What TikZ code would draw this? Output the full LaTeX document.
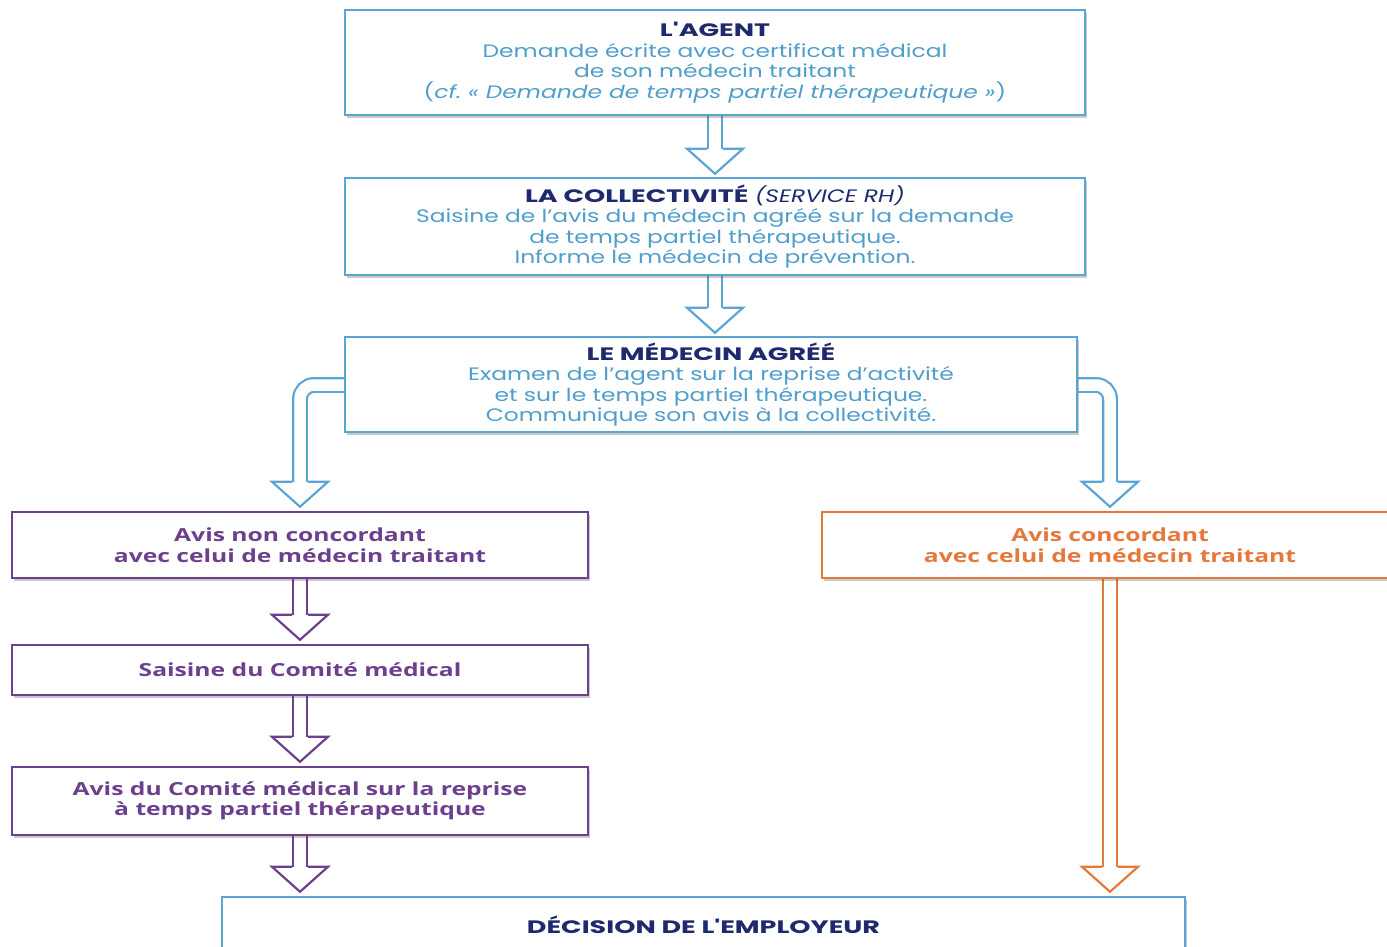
\documentclass[tikz,border=0pt]{standalone}
\usepackage{fontspec}
\setmainfont{Poppins}[FakeStretch=1.3]
\newfontfamily\headfont{Poppins}[FakeStretch=1.5]
\newfontfamily\avisfont{Open Sans}[FakeStretch=1.37]
\usetikzlibrary{shadows,backgrounds,calc}

\definecolor{bluebord}{HTML}{5AA5D5}
\definecolor{bluetext}{HTML}{4F9ECB}
\definecolor{navy}{HTML}{1F2A6E}
\definecolor{purp}{HTML}{6C3F8F}
\definecolor{orng}{HTML}{E5783A}

\newcommand{\stagehead}[1]{\textcolor{navy}{\headfont\bfseries #1}}

\tikzset{
  stage/.style={draw=bluebord, line width=2.5pt, fill=white, align=center, inner sep=0pt,
    text=bluetext, font=\fontsize{18}{20.5}\selectfont,
    drop shadow={shadow xshift=2pt, shadow yshift=-3pt, opacity=0.3, fill=black!70}},
  avis/.style={stage, draw=#1, text=#1, font=\avisfont\bfseries\fontsize{18}{20.5}\selectfont},
  shaft/.style={double=white, double distance=11.5pt, line width=2.2pt},
  tip/.pic={\draw[line width=2.2pt, line join=miter] (-8,-25) -- (-28,-25) -- (0,0) -- (28,-25) -- (8,-25);},
}

\begin{document}
\begin{tikzpicture}[x=1pt, y=-1pt]
\useasboundingbox (0,0) rectangle (1387,946);
\clip (0,0) rectangle (1387,946);

% etapes communes
\node[stage, minimum width=740pt, minimum height=105pt] (agent) at (715,62.5)
  {\stagehead{L'AGENT}\\
   Demande écrite avec certificat médical\\
   de son médecin traitant\\
   (\textit{cf.\ « Demande de temps partiel thérapeutique »})};
\node[stage, minimum width=740pt, minimum height=97pt] (collect) at (715,226.5)
  {\stagehead{LA COLLECTIVITÉ} \textcolor{navy}{\textit{(SERVICE RH)}}\\
   Saisine de l'avis du médecin agréé sur la demande\\
   de temps partiel thérapeutique.\\
   Informe le médecin de prévention.};
\node[stage, minimum width=732pt, minimum height=95pt] (agree) at (711,384.5)
  {\stagehead{LE MÉDECIN AGRÉÉ}\\
   Examen de l'agent sur la reprise d'activité\\
   et sur le temps partiel thérapeutique.\\
   Communique son avis à la collectivité.};

% deux branches
\node[avis=purp, minimum width=576pt, minimum height=66pt] (nonconc) at (300,545)
  {Avis non concordant\\ avec celui de médecin traitant};
\node[avis=orng, minimum width=576pt, minimum height=66pt] (conc) at (1110,545)
  {Avis concordant\\ avec celui de médecin traitant};
\node[avis=purp, minimum width=576pt, minimum height=50pt] (saisine) at (300,670)
  {Saisine du Comité médical};
\node[avis=purp, minimum width=576pt, minimum height=68pt] (comite) at (300,801)
  {Avis du Comité médical sur la reprise\\ à temps partiel thérapeutique};

\node[stage, minimum width=963pt, minimum height=56pt] (decision) at (703.5,925)
  {\stagehead{DÉCISION DE L'EMPLOYEUR}};

% fleches
\begin{scope}[on background layer]
\draw[shaft, bluebord] (agent.south) -- ($(collect.north)+(0,-28)$);
\pic[bluebord] at ($(collect.north)+(0,-3)$) {tip};
\draw[shaft, bluebord] (collect.south) -- ($(collect.south |- agree.north)+(0,-28)$);
\pic[bluebord] at ($(collect.south |- agree.north)+(0,-3)$) {tip};
\draw[shaft, bluebord, rounded corners=14pt] ($(agree.west)+(0,0.5)$) -| ($(nonconc.north)+(0,-29)$);
\pic[bluebord] at ($(nonconc.north)+(0,-4)$) {tip};
\draw[shaft, bluebord, rounded corners=14pt] ($(agree.east)+(0,0.5)$) -| ($(conc.north)+(0,-29)$);
\pic[bluebord] at ($(conc.north)+(0,-4)$) {tip};
\draw[shaft, purp] (nonconc.south) -- ($(saisine.north)+(0,-29)$);
\pic[purp] at ($(saisine.north)+(0,-4)$) {tip};
\draw[shaft, purp] (saisine.south) -- ($(comite.north)+(0,-29)$);
\pic[purp] at ($(comite.north)+(0,-4)$) {tip};
\draw[shaft, purp] (comite.south) -- ($(comite.south |- decision.north)+(0,-29)$);
\pic[purp] at ($(comite.south |- decision.north)+(0,-4)$) {tip};
\draw[shaft, orng] (conc.south) -- ($(conc.south |- decision.north)+(0,-29)$);
\pic[orng] at ($(conc.south |- decision.north)+(0,-4)$) {tip};
\end{scope}
\end{tikzpicture}
\end{document}
